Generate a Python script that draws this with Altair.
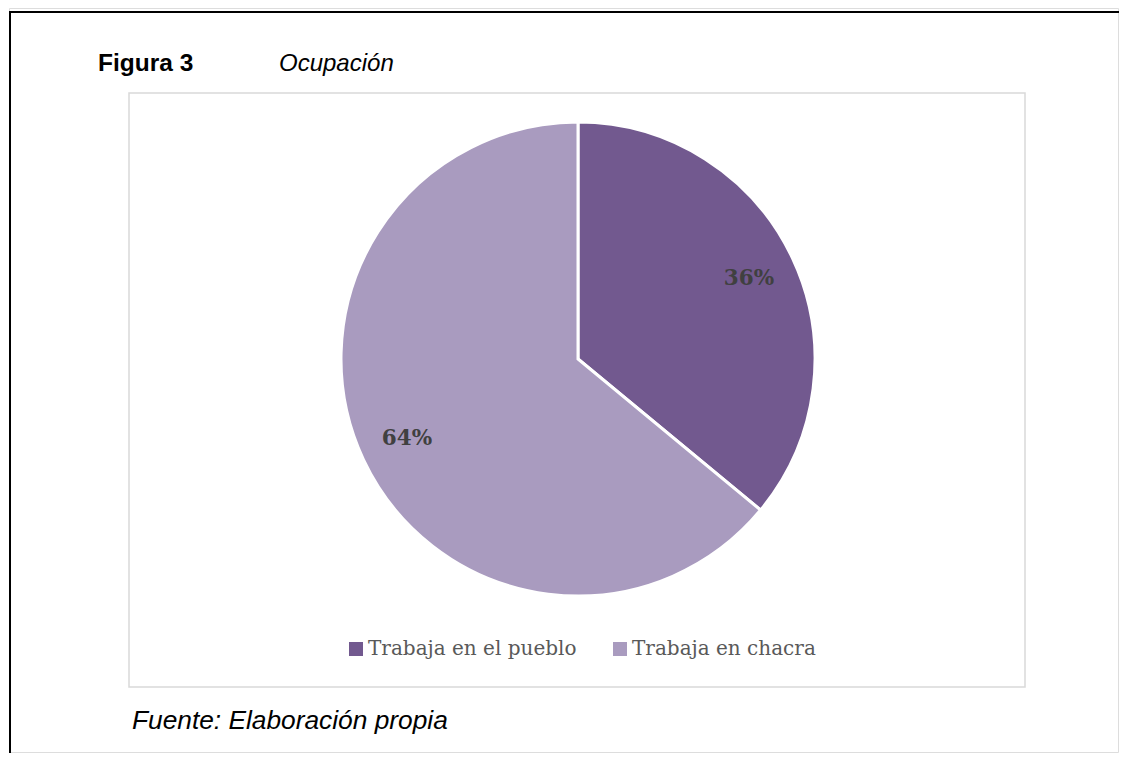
import altair as alt
import pandas as pd

categories = ["Trabaja en el pueblo", "Trabaja en chacra"]
values = [36, 64]
colors = ["#72598F", "#A99BBF"]

title_bold = "Figura 3"
title_italic = "Ocupación"
source_text = "Fuente: Elaboración propia"

W, H = 1111, 745
CX, CY, R = 569, 351, 237

pie_df = pd.DataFrame({
    "categoria": categories,
    "valor": values,
    "orden": list(range(len(categories))),
})
pie_df["etiqueta"] = pie_df["valor"].astype(str) + "%"

one = pd.DataFrame({"k": [0]})

color_scale = alt.Scale(domain=categories, range=colors)

# outer black border (top and left)
border_top = alt.Chart(one).mark_rule(color="black", strokeWidth=2).encode(
    x=alt.value(0), x2=alt.value(W), y=alt.value(4)
)
border_left = alt.Chart(one).mark_rule(color="black", strokeWidth=2).encode(
    x=alt.value(1), y=alt.value(3), y2=alt.value(H)
)

# inner light-grey frame
frame = alt.Chart(one).mark_rect(fill="white", stroke="#D9D9D9", strokeWidth=1.5).encode(
    x=alt.value(120), x2=alt.value(1016), y=alt.value(85), y2=alt.value(679)
)

t1 = alt.Chart(one).mark_text(
    text=title_bold, font="Liberation Sans", fontSize=24.5, fontWeight="bold",
    align="left", baseline="alphabetic", color="black"
).encode(x=alt.value(89), y=alt.value(63))

t2 = alt.Chart(one).mark_text(
    text=title_italic, font="Liberation Sans", fontSize=24, fontStyle="italic",
    align="left", baseline="alphabetic", color="black"
).encode(x=alt.value(270), y=alt.value(63))

t3 = alt.Chart(one).mark_text(
    text=source_text, font="Liberation Sans", fontSize=26.3, fontStyle="italic",
    align="left", baseline="alphabetic", color="black"
).encode(x=alt.value(123), y=alt.value(721))

base = alt.Chart(pie_df)

pie = base.mark_arc(stroke="white", strokeWidth=3, radius=R).encode(
    theta=alt.Theta("valor:Q", stack=True),
    order=alt.Order("orden:Q"),
    color=alt.Color(
        "categoria:N", scale=color_scale, sort=categories,
        legend=alt.Legend(
            title=None, orient="none", direction="horizontal",
            legendX=337, legendY=631,
            symbolType="square", symbolSize=196, symbolStrokeWidth=0,
            labelFont="DejaVu Serif", labelFontSize=20, labelColor="#595959",
            labelOffset=2, labelLimit=0, columnPadding=33, padding=0,
        ),
    ),
    x=alt.value(CX), y=alt.value(CY),
)

labels = base.mark_text(
    radius=189, font="DejaVu Serif", fontSize=21.5, fontWeight="bold",
    color="#404040", align="center", baseline="middle"
).encode(
    theta=alt.Theta("valor:Q", stack=True),
    order=alt.Order("orden:Q"),
    text="etiqueta:N",
    x=alt.value(CX), y=alt.value(CY),
)

chart = alt.layer(border_top, border_left, frame, t1, t2, t3, pie, labels).properties(
    width=W, height=H, padding=0,
    autosize=alt.AutoSizeParams(type="fit", contains="padding"),
).configure_view(strokeWidth=0, stroke="transparent").configure(background="white")

chart.save("out.html", embed_options={"renderer": "svg", "actions": False})
